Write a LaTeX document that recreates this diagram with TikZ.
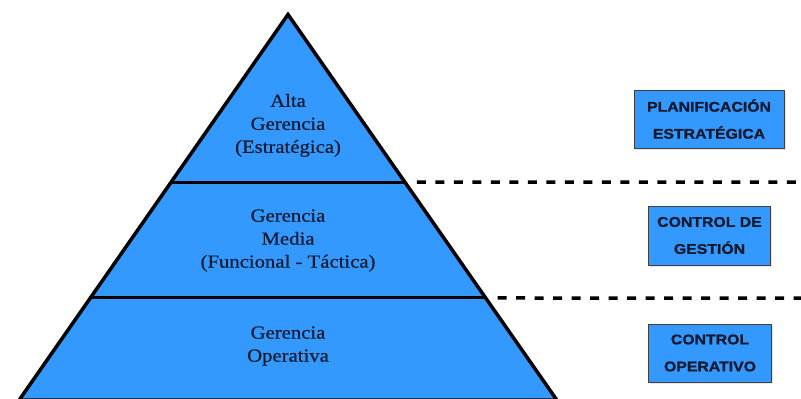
\documentclass[tikz,border=0pt]{standalone}
\usepackage{fontspec}
\usepackage{tikz}
\usetikzlibrary{calc,shadows}
\newfontfamily\levelfont[FakeStretch=1.12,FakeBold=0.5]{Liberation Serif}
\newfontfamily\areafont[FakeStretch=1.13,FakeBold=1]{Liberation Sans Bold}
\definecolor{levelblue}{RGB}{51,153,255}
\definecolor{textnavy}{RGB}{15,25,45}

\begin{document}
\begin{tikzpicture}[x=1pt,y=-1pt,
    level/.style={align=center,text=textnavy,font=\levelfont\fontsize{18.5}{23}\selectfont},
    areabox/.style={draw=black!75,fill=levelblue,line width=1pt,align=center,inner sep=0pt,
      text=textnavy,font=\areafont\fontsize{14}{27}\selectfont,
      drop shadow={opacity=0.2,shadow xshift=1.5pt,shadow yshift=-1.5pt}},
    cutline/.style={line width=3pt},
    guide/.style={line width=3.5pt,dash pattern=on 9pt off 9.5pt}]
    \useasboundingbox (0,0) rectangle (801,399);

    % Pyramid
    \coordinate (apex) at (288,14.5);
    \coordinate (baseL) at (19.2,400);
    \coordinate (baseR) at (556.8,400);
    \coordinate (cutL1) at ($(apex)!0.4345!(baseL)$);
    \coordinate (cutR1) at ($(apex)!0.4345!(baseR)$);
    \coordinate (cutL2) at ($(apex)!0.7354!(baseL)$);
    \coordinate (cutR2) at ($(apex)!0.7354!(baseR)$);
    \fill[levelblue] (apex) -- (baseR) -- (baseL) -- cycle;
    \draw[cutline] (cutL1) -- (cutR1);
    \draw[cutline] (cutL2) -- (cutR2);
    \draw[line width=3.5pt,line join=miter] (apex) -- (baseR) -- (baseL) -- cycle;

    % Levels
    \node[level] (alta) at (288,125.4) {Alta\\Gerencia\\(Estratégica)};
    \node[level] (media) at (288,240.5) {Gerencia\\Media\\(Funcional - Táctica)};
    \node[level] (operativa) at (288,346) {Gerencia\\Operativa};

    % Dashed guides
    \coordinate (guideEnd1) at (801,182);
    \coordinate (guideEnd2) at (801,298);
    \draw[guide] ($(cutR1)+(12,0)$) -- (guideEnd1);
    \draw[guide] ($(cutR2)+(12,0)$) -- (guideEnd2);

    % Boxes
    \node[areabox,minimum width=150pt,minimum height=58pt] (planif) at (709,119) {PLANIFICACIÓN\\ESTRATÉGICA};
    \node[areabox,minimum width=122.5pt,minimum height=59pt] (gestion) at (709.5,235.5) {CONTROL DE\\GESTIÓN};
    \node[areabox,minimum width=123.5pt,minimum height=58pt] (operativo) at (710,353) {CONTROL\\OPERATIVO};
\end{tikzpicture}
\end{document}
